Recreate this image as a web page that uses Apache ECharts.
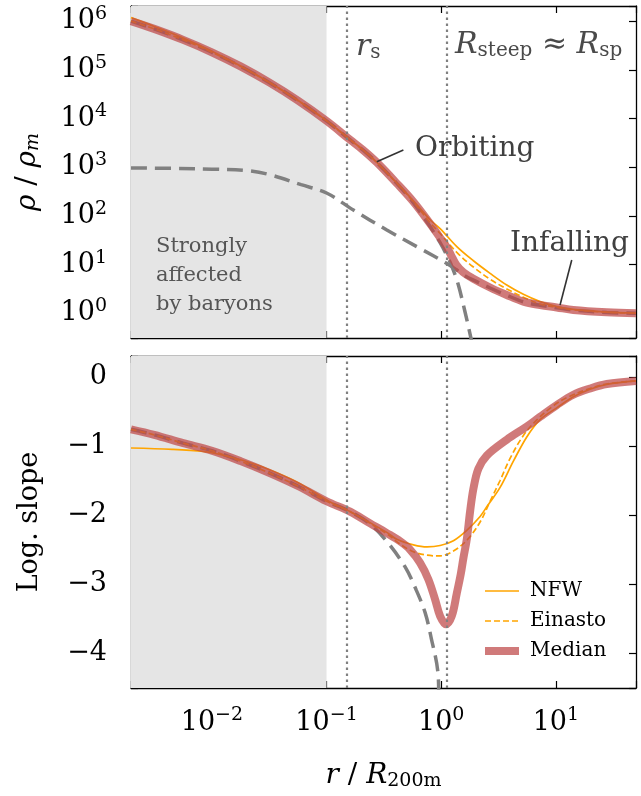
<!DOCTYPE html>
<html><head><meta charset="utf-8">
<script src="https://cdn.jsdelivr.net/npm/echarts@6/dist/echarts.min.js"></script>
<style>html,body{margin:0;padding:0;background:#fff}#c{width:641px;height:796px}</style>
</head><body><div id="c"></div>
<script>
// ---------------- data ----------------
const X_MIN = 0.00197, X_MAX = 50;
const SHADE_X = [X_MIN, 0.1];          // "strongly affected by baryons" region
const R_S = 0.153, R_STEEP = 1.11;      // vertical dotted markers

// top panel: density rho / rho_m
const medianDensR = [0.00197,0.00314,0.00562,0.01,0.0178,0.0316,0.0562,0.1,0.161,0.2085,0.2745,0.41,0.572,0.80,0.978,1.103,1.22,1.349,1.562,1.909,2.669,3.732,5.207,7.282,10.18,14.21,27.79,50];
const medianDens  = [1.0e6,6.92e5,4.12e5,2.29e5,1.175e5,5.5e4,2.34e4,8910,3630,2240,1250,465,195,69.2,35.5,24.0,15.5,10.0,6.92,5.13,3.39,2.38,1.74,1.48,1.32,1.17,1.05,1.0];

const nfwDensR = [0.00197,0.00314,0.00562,0.01,0.0178,0.0316,0.0562,0.1,0.161,0.2085,0.2745,0.41,0.572,0.80,0.978,1.368,1.909,2.669,3.732,5.207,7.282,10.18,14.21,27.79,50];
const nfwDens  = [1.175e6,7.76e5,4.47e5,2.40e5,1.20e5,5.56e4,2.37e4,9020,3670,2265,1260,475,204,83.2,55.0,23.4,12.0,6.61,3.80,2.45,1.74,1.38,1.20,1.06,1.01];

const einDensR = [0.00197,0.00314,0.00562,0.01,0.0178,0.0316,0.0562,0.1,0.161,0.2085,0.2745,0.41,0.572,0.80,0.978,1.368,1.909,2.669,3.732,5.207,7.282,10.18,14.21,27.79,50];
const einDens  = [1.0e6,6.92e5,4.12e5,2.29e5,1.175e5,5.5e4,2.34e4,8910,3630,2240,1250,465,195,72.4,43.6,17.8,8.91,5.01,3.16,2.14,1.55,1.33,1.18,1.05,1.0];

const orbDensR = [0.00197,0.00314,0.00562,0.01,0.0178,0.0316,0.0562,0.1,0.161,0.2085,0.2745,0.41,0.572,0.80,0.978,1.103,1.245,1.404,1.616,1.823,2.015];
const orbDens  = [1.0e6,6.92e5,4.12e5,2.29e5,1.175e5,5.5e4,2.34e4,8910,3630,2240,1250,465,186,60.3,28.2,16.6,8.91,3.98,1.05,0.30,0.10];

const infDensR = [0.00197,0.005,0.01,0.02,0.0316,0.06,0.1,0.1715,0.3355,0.6548,1.11,1.349,1.562,1.909,2.669,3.732,5.207,7.282,10.18,14.21,27.79,50];
const infDens  = [966,944,912,851,708,437,295,132,51.3,21.4,10.7,7.94,6.17,4.79,3.31,2.34,1.72,1.46,1.30,1.16,1.04,1.0];

// bottom panel: logarithmic slope
const medianSlopeR = [0.00197,0.00314,0.00562,0.01,0.0178,0.0316,0.0562,0.1,0.1606,0.2399,0.3355,0.4383,0.5357,0.6548,0.7734,0.8847,0.9781,1.103,1.237,1.368,1.482,1.562,1.672,1.786,1.909,2.11,2.497,3.732,5.576,7.282,10.18,14.21,19.87,27.79,50];
const medianSlope  = [-0.76,-0.84,-0.96,-1.07,-1.22,-1.39,-1.58,-1.80,-1.95,-2.12,-2.26,-2.38,-2.50,-2.69,-2.93,-3.22,-3.46,-3.58,-3.46,-3.13,-2.85,-2.62,-2.35,-1.95,-1.62,-1.33,-1.14,-0.91,-0.72,-0.58,-0.41,-0.26,-0.17,-0.105,-0.06];

const orbSlopeR = [0.00197,0.00314,0.00562,0.01,0.0178,0.0316,0.0562,0.1,0.1606,0.2399,0.3428,0.4845,0.6043,0.724,0.8164,0.9342,0.955,0.99];
const orbSlope  = [-0.76,-0.84,-0.96,-1.07,-1.22,-1.39,-1.58,-1.80,-1.95,-2.13,-2.40,-2.75,-3.08,-3.41,-3.77,-4.26,-4.7,-5.5];

const nfwSlopeR = [0.00197,0.0045,0.0084,0.0115,0.0178,0.0282,0.0551,0.1075,0.1606,0.3355,0.4101,0.5723,0.7536,0.9781,1.278,1.672,2.184,2.497,3.263,4.262,5.576,7.282,10.18,14.21,19.87,27.79,50];
const nfwSlope  = [-1.03,-1.05,-1.08,-1.12,-1.20,-1.31,-1.52,-1.81,-1.95,-2.25,-2.35,-2.43,-2.46,-2.44,-2.37,-2.22,-2.02,-1.88,-1.60,-1.22,-0.87,-0.62,-0.45,-0.29,-0.18,-0.11,-0.06];

const einSlopeR = [0.00197,0.00314,0.00562,0.01,0.0178,0.0316,0.0562,0.1,0.1606,0.2399,0.3355,0.4383,0.5723,0.7536,0.9781,1.278,1.682,2.184,2.669,3.263,3.988,5.207,6.858,9.512,12.52,19.87,27.79,50];
const einSlope  = [-0.76,-0.84,-0.96,-1.07,-1.22,-1.39,-1.58,-1.80,-1.95,-2.12,-2.27,-2.42,-2.53,-2.58,-2.59,-2.52,-2.36,-2.10,-1.80,-1.50,-1.18,-0.85,-0.62,-0.42,-0.30,-0.17,-0.105,-0.06];

// annotation pointer segments (data coordinates)
const orbitingPointer  = [[0.2745, 1297], [0.468, 2255]];
const infallingPointer = [[10.88, 1.48], [13.76, 12.4]];

// ---------------- chart ----------------
const FONT = 'DejaVu Serif';
const chart = echarts.init(document.getElementById('c'), null, {renderer: 'canvas'});
const pairs = (xs, ys) => xs.map((x, i) => [x, ys[i]]);
const MINUS = '\u2212';

function logLabel(v) {
  const e = Math.log10(v), r = Math.round(e);
  if (Math.abs(e - r) > 1e-6) return '';
  return '{b|10}{sup|' + (r < 0 ? MINUS + (-r) : r) + '}';
}
function slopeLabel(v) {
  const r = Math.round(v);
  if (Math.abs(v - r) > 1e-6) return '';
  return r < 0 ? MINUS + (-r) : String(r);
}
const richTick = {
  b: {fontFamily: FONT, fontSize: 27, color: '#000'},
  sup: {fontFamily: FONT, fontSize: 19, color: '#000', padding: [0, 0, 14, 0]}
};
const richMath = (size, color) => ({
  it: {fontFamily: FONT, fontStyle: 'italic', fontSize: size, color: color},
  n: {fontFamily: FONT, fontSize: size, color: color},
  sub: {fontFamily: FONT, fontSize: Math.round(size * 0.68), color: color, padding: [11, 0, 0, 0]},
  subi: {fontFamily: FONT, fontStyle: 'italic', fontSize: Math.round(size * 0.68), color: color, padding: [11, 0, 0, 0]}
});

function axis(extra) {
  return Object.assign({
    axisLine: {show: true, onZero: false, lineStyle: {color: '#000', width: 1.3}},
    axisTick: {show: true, inside: true, length: 7, lineStyle: {color: '#000', width: 1.2}},
    minorTick: {show: false},
    splitLine: {show: false},
    axisLabel: {show: false}
  }, extra);
}

const ORANGE = '#ffa500';
const MED_COLOR = 'rgba(190,70,70,0.72)';
const GRAY = {color: '#808080', width: 3.5, type: [16, 8]};
const NFW_STYLE = {color: ORANGE, width: 1.7};
const EIN_STYLE = {color: ORANGE, width: 1.7, type: [6, 3]};
const MED_STYLE = {color: MED_COLOR, width: 8};

function line(name, panel, data, style, z) {
  return {
    type: 'line', name: name,
    xAxisIndex: panel ? 2 : 0, yAxisIndex: panel ? 2 : 0,
    data: data, symbol: 'none', showSymbol: false, smooth: 0.35,
    lineStyle: style, itemStyle: {color: style.color}, z: z, silent: true, clip: true
  };
}
function backdrop(panel) {
  return {
    type: 'line', name: 'bg' + panel, xAxisIndex: panel ? 2 : 0, yAxisIndex: panel ? 2 : 0,
    data: [], z: 1, silent: true, symbol: 'none',
    markArea: {silent: true, itemStyle: {color: '#e5e5e5', opacity: 1}, label: {show: false},
      data: [[{xAxis: SHADE_X[0]}, {xAxis: SHADE_X[1]}]]},
    markLine: {silent: true, symbol: ['none', 'none'], label: {show: false},
      lineStyle: {color: '#808080', type: [2.5, 3.5], width: 2.2},
      data: [{xAxis: R_S}, {xAxis: R_STEEP}]}
  };
}

const option = {
  animation: false,
  backgroundColor: '#fff',
  grid: [
    {left: 131, top: 6, width: 505, height: 332, outerBoundsMode: 'none'},
    {left: 131, top: 356, width: 505, height: 332, outerBoundsMode: 'none'}
  ],
  xAxis: [
    axis({type: 'log', gridIndex: 0, position: 'bottom', min: X_MIN, max: X_MAX}),
    axis({type: 'log', gridIndex: 0, position: 'top', min: X_MIN, max: X_MAX}),
    axis({type: 'log', gridIndex: 1, position: 'bottom', min: X_MIN, max: X_MAX,
      axisLabel: {show: true, formatter: logLabel, margin: 18, rich: richTick},
      name: '{it|r} {n|/} {it|R}{sub|200m}', nameLocation: 'middle', nameGap: 73,
      nameTextStyle: {fontFamily: FONT, fontSize: 28, color: '#000', rich: richMath(28, '#000')}}),
    axis({type: 'log', gridIndex: 1, position: 'top', min: X_MIN, max: X_MAX})
  ],
  yAxis: [
    axis({type: 'log', gridIndex: 0, position: 'left', min: 0.311, max: 2.04e6,
      axisLabel: {show: true, formatter: logLabel, margin: 24, rich: richTick},
      name: '{it|ρ} {n|/} {it|ρ}{subi|m}', nameLocation: 'middle', nameGap: 88, nameRotate: 90,
      nameTextStyle: {fontFamily: FONT, fontSize: 28, color: '#000', rich: richMath(28, '#000')}}),
    axis({type: 'log', gridIndex: 0, position: 'right', min: 0.311, max: 2.04e6}),
    axis({type: 'value', gridIndex: 1, position: 'left', min: -4.5, max: 0.3,
      axisLabel: {show: true, formatter: slopeLabel, margin: 24, fontFamily: FONT, fontSize: 27, color: '#000'},
      name: 'Log. slope', nameLocation: 'middle', nameGap: 88, nameRotate: 90,
      nameTextStyle: {fontFamily: FONT, fontSize: 27, color: '#000'}}),
    axis({type: 'value', gridIndex: 1, position: 'right', min: -4.5, max: 0.3})
  ],
  legend: {
    show: true, orient: 'vertical', left: 476, top: 576,
    itemWidth: 34, itemHeight: 14, itemGap: 10,
    itemStyle: {opacity: 0},
    data: [
      {name: 'NFW', lineStyle: {color: ORANGE, width: 1.7, type: 'solid'}},
      {name: 'Einasto', lineStyle: {color: ORANGE, width: 1.7, type: [6, 3]}},
      {name: 'Median', lineStyle: {color: MED_COLOR, width: 8, type: 'solid'}}
    ],
    textStyle: {fontFamily: FONT, fontSize: 20, color: '#000', padding: [0, 0, 0, 6]},
    selectedMode: false
  },
  series: [
    backdrop(0),
    line('Orbiting', 0, pairs(orbDensR, orbDens), GRAY, 2),
    line('Infalling', 0, pairs(infDensR, infDens), GRAY, 2),
    line('NFW', 0, pairs(nfwDensR, nfwDens), NFW_STYLE, 3),
    line('Einasto', 0, pairs(einDensR, einDens), EIN_STYLE, 3),
    line('Median', 0, pairs(medianDensR, medianDens), MED_STYLE, 4),
    {
      type: 'line', name: 'pointers', xAxisIndex: 0, yAxisIndex: 0, data: [], z: 6, silent: true, symbol: 'none',
      markLine: {silent: true, symbol: ['none', 'none'], label: {show: false},
        lineStyle: {color: '#333', type: 'solid', width: 1.6},
        data: [
          [{coord: orbitingPointer[0]}, {coord: orbitingPointer[1]}],
          [{coord: infallingPointer[0]}, {coord: infallingPointer[1]}]
        ]}
    },
    backdrop(1),
    line('Orbiting slope', 1, pairs(orbSlopeR, orbSlope), GRAY, 2),
    line('NFW', 1, pairs(nfwSlopeR, nfwSlope), NFW_STYLE, 3),
    line('Einasto', 1, pairs(einSlopeR, einSlope), EIN_STYLE, 3),
    line('Median', 1, pairs(medianSlopeR, medianSlope), MED_STYLE, 4)
  ],
  graphic: [
    {type: 'text', x: 415, y: 149, z: 100, silent: true,
      style: {text: 'Orbiting', fontFamily: FONT, fontSize: 28, fill: '#404040', align: 'left', verticalAlign: 'middle'}},
    {type: 'text', x: 510, y: 244, z: 100, silent: true,
      style: {text: 'Infalling', fontFamily: FONT, fontSize: 28, fill: '#404040', align: 'left', verticalAlign: 'middle'}},
    {type: 'text', x: 156, y: 276, z: 100, silent: true,
      style: {text: 'Strongly\naffected\nby baryons', fontFamily: FONT, fontSize: 21, lineHeight: 29, fill: '#555', align: 'left', verticalAlign: 'middle'}},
    {type: 'text', x: 356, y: 47, z: 100, silent: true,
      style: {text: '{it|r}{sub|s}', rich: richMath(30, '#4a4a4a'), fill: '#4a4a4a', align: 'left', verticalAlign: 'middle'}},
    {type: 'text', x: 455, y: 45, z: 100, silent: true,
      style: {text: '{it|R}{sub|steep}{n| ≈ }{it|R}{sub|sp}', rich: richMath(30, '#4a4a4a'), fill: '#4a4a4a', align: 'left', verticalAlign: 'middle'}}
  ]
};
chart.setOption(option);
</script></body></html>
